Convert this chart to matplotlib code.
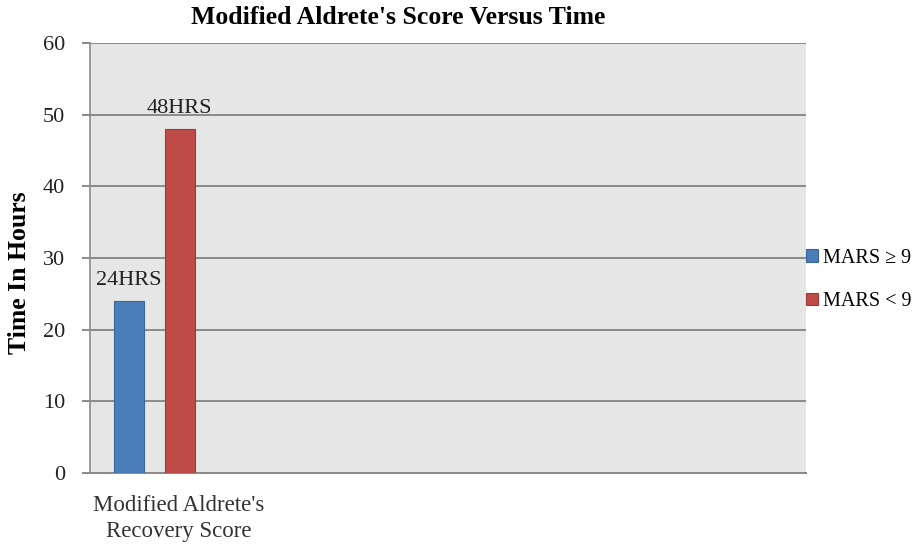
import matplotlib

matplotlib.use("Agg")
import matplotlib.pyplot as plt
import numpy as np

categories = ["Modified Aldrete's\nRecovery Score"]
series_names = ["MARS \u2265 9", "MARS < 9"]
mars_high = [24]
mars_low = [48]
bar_labels = [["24HRS"], ["48HRS"]]
y_ticks = [0, 10, 20, 30, 40, 50, 60]

colors = ["#4a7ebb", "#be4b48"]
edges = ["#3a6598", "#9c3a37"]
grid_col = "#8a8a8a"

plt.rcParams["font.family"] = ["Liberation Serif", "DejaVu Serif"]

fig = plt.figure(figsize=(9.19, 5.46), dpi=100)
ax = fig.add_axes([90 / 919, 1 - 473 / 546, (806 - 90) / 919, (473 - 43) / 546])
ax.set_facecolor("#e6e6e6")

x = np.arange(len(categories))
width = 0.3
offsets = [-0.255, 0.255]
for off, vals, col, ec, labs, name in zip(
    offsets, [mars_high, mars_low], colors, edges, bar_labels, series_names
):
    bars = ax.bar(x + off, vals, width, color=col, edgecolor=ec, linewidth=0.8,
                  label=name, zorder=3)
    for b, lab in zip(bars, labs):
        ax.text(b.get_x() + b.get_width() / 2, b.get_height() + 1.5, lab,
                ha="center", va="bottom", fontsize=16, color="#222222")

ax.set_xlim(-0.64, 6.52)
ax.set_ylim(0, 60)
ax.set_yticks(y_ticks)
ax.yaxis.grid(True, color=grid_col, linewidth=1.4, zorder=1)
ax.set_axisbelow(True)
ax.tick_params(axis="y", length=6, width=1.4, color=grid_col, labelsize=16,
               pad=12, labelcolor="#222222")
# category label sits a little right of the group centre, as in the source
ax.set_xticks(x + 0.25)
ax.set_xticklabels(categories, fontsize=16.5, color="#333333", linespacing=1.3)
ax.tick_params(axis="x", length=0, pad=16)

for side in ["top", "right"]:
    ax.spines[side].set_visible(False)
ax.spines["left"].set_color(grid_col)
ax.spines["left"].set_linewidth(1.2)
ax.spines["bottom"].set_color(grid_col)
ax.spines["bottom"].set_linewidth(1.4)

fig.text(20 / 919, 1 - 273 / 546, "Time In Hours", rotation=90,
         ha="center", va="center", fontsize=18.5, fontweight="bold")
fig.text(398 / 919, 1 - 17 / 546, "Modified Aldrete's Score Versus Time",
         ha="center", va="center", fontsize=18.5, fontweight="bold")

fig.legend(loc="center left", bbox_to_anchor=(806 / 919, 1 - 280 / 546),
           frameon=False, fontsize=14.5, handlelength=0.6, handleheight=0.6,
           handletextpad=0.25, labelspacing=1.2, borderaxespad=0, borderpad=0)

fig.savefig("out.png", dpi=100)
